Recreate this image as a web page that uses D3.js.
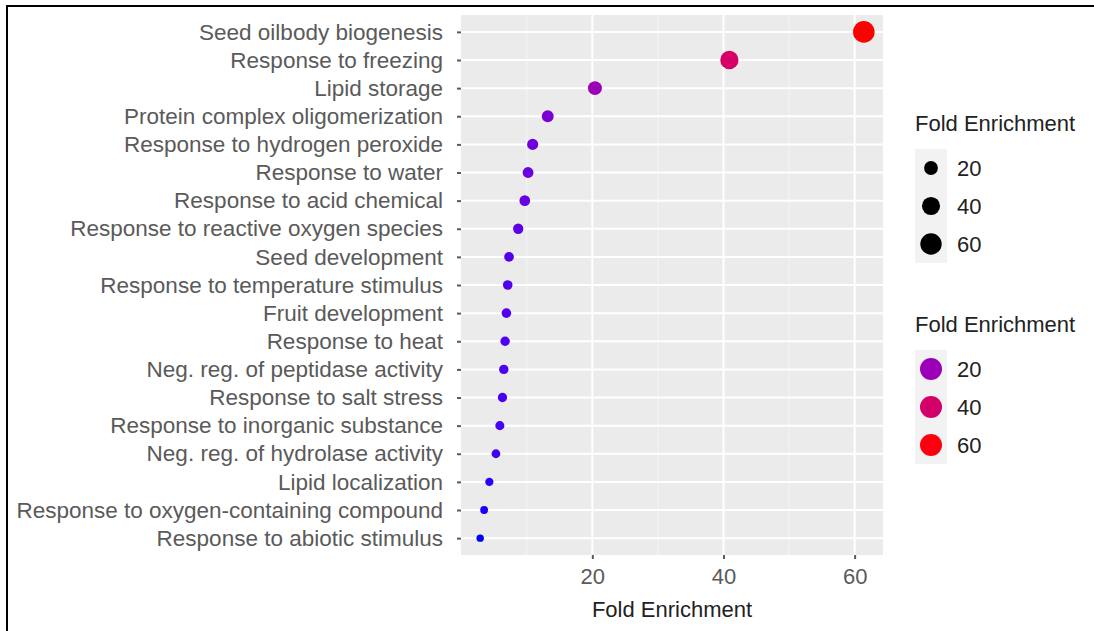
<!DOCTYPE html>
<html>
<head>
<meta charset="utf-8">
<script src="https://cdn.jsdelivr.net/npm/d3@7"></script>
<style>
  body { margin: 0; background: #fff; }
  text { font-family: "Liberation Sans", Arial, sans-serif; }
</style>
</head>
<body>
<svg id="chart"></svg>
<script>
var w = 1094;
var h = 631;

// GO terms, top to bottom
var terms = [
    "Seed oilbody biogenesis",
    "Response to freezing",
    "Lipid storage",
    "Protein complex oligomerization",
    "Response to hydrogen peroxide",
    "Response to water",
    "Response to acid chemical",
    "Response to reactive oxygen species",
    "Seed development",
    "Response to temperature stimulus",
    "Fruit development",
    "Response to heat",
    "Neg. reg. of peptidase activity",
    "Response to salt stress",
    "Response to inorganic substance",
    "Neg. reg. of hydrolase activity",
    "Lipid localization",
    "Response to oxygen-containing compound",
    "Response to abiotic stimulus"
];
var foldEnrichment = [61.4, 40.9, 20.4, 13.2, 10.9, 10.2, 9.7, 8.7, 7.3, 7.1,
    6.9, 6.7, 6.5, 6.3, 5.9, 5.3, 4.3, 3.5, 2.9];
var xTicks = [20, 40, 60];
var legendValues = [20, 40, 60];

var margin = { top: 15, right: 211, bottom: 76, left: 461 };
var pw = w - margin.left - margin.right;
var ph = h - margin.top - margin.bottom;

var svg = d3.select("#chart")
    .attr("width", w)
    .attr("height", h);

// frame lines (top and left only)
svg.append("line").attr("x1", 7).attr("x2", w).attr("y1", 6).attr("y2", 6)
    .style("stroke", "#000").style("stroke-width", 2);
svg.append("line").attr("x1", 7).attr("x2", 7).attr("y1", 5).attr("y2", h)
    .style("stroke", "#000").style("stroke-width", 2);

var lo = d3.min(foldEnrichment), hi = d3.max(foldEnrichment);
var pad = (hi - lo) * 0.05;
var x = d3.scaleLinear().domain([lo - pad, hi + pad]).range([0, pw]);
var y = d3.scalePoint().domain(terms).range([0, ph]).padding(0.6);
var r = d3.scaleSqrt().domain([lo, hi]).range([3.7, 10.8]);
var color = d3.scaleSequential(d3.interpolateLab("#0000ff", "#ff0000")).domain([lo, hi]);

var g = svg.append("g").attr("transform", "translate(" + margin.left + "," + margin.top + ")");

g.append("rect").attr("width", pw).attr("height", ph).style("fill", "#ebebeb");

// minor grid
g.selectAll("line.minor")
    .data([10, 30, 50])
    .enter()
    .append("line")
    .attr("x1", function (d) { return x(d); })
    .attr("x2", function (d) { return x(d); })
    .attr("y1", 0).attr("y2", ph)
    .style("stroke", "#f6f6f6").style("stroke-width", 1);

// major grid
g.selectAll("line.vmajor")
    .data(xTicks)
    .enter()
    .append("line")
    .attr("x1", function (d) { return x(d); })
    .attr("x2", function (d) { return x(d); })
    .attr("y1", 0).attr("y2", ph)
    .style("stroke", "#fff").style("stroke-width", 2);

g.selectAll("line.hmajor")
    .data(terms)
    .enter()
    .append("line")
    .attr("x1", 0).attr("x2", pw)
    .attr("y1", function (d) { return y(d); })
    .attr("y2", function (d) { return y(d); })
    .style("stroke", "#fff").style("stroke-width", 2);

// axes
var xAxis = g.append("g")
    .attr("transform", "translate(0," + ph + ")")
    .call(d3.axisBottom(x).tickValues(xTicks).tickSize(4).tickPadding(9));
var yAxis = g.append("g")
    .call(d3.axisLeft(y).tickSize(4).tickPadding(14));

[xAxis, yAxis].forEach(function (a) {
    a.select(".domain").remove();
    a.selectAll(".tick line").style("stroke", "#5a5a5a").style("stroke-width", 2);
    a.selectAll(".tick text")
        .style("font-size", "22px")
        .style("fill", "#5a5a5a")
        .style("font-family", "Liberation Sans, Arial, sans-serif");
});
yAxis.selectAll(".tick text").style("font-size", "22.5px");

// points
g.selectAll("circle")
    .data(terms)
    .enter()
    .append("circle")
    .attr("cx", function (d, i) { return x(foldEnrichment[i]); })
    .attr("cy", function (d) { return y(d); })
    .attr("r", function (d, i) { return r(foldEnrichment[i]); })
    .style("fill", function (d, i) { return color(foldEnrichment[i]); });

// axis title
svg.append("text")
    .attr("x", margin.left + pw / 2)
    .attr("y", 617)
    .attr("text-anchor", "middle")
    .style("font-size", "22px")
    .style("fill", "#222")
    .text("Fold Enrichment");

// legends
function drawLegend(top, useColor) {
    var lg = svg.append("g").attr("transform", "translate(915," + top + ")");
    lg.append("text")
        .attr("x", 0).attr("y", 0)
        .style("font-size", "22px")
        .style("fill", "#222")
        .text("Fold Enrichment");
    lg.append("rect")
        .attr("x", 0).attr("y", 18)
        .attr("width", 32).attr("height", 114)
        .style("fill", "#f2f2f2");
    lg.selectAll("circle")
        .data(legendValues)
        .enter()
        .append("circle")
        .attr("cx", 16)
        .attr("cy", function (d, i) { return 37 + i * 38; })
        .attr("r", function (d) { return useColor ? 11 : r(d); })
        .style("fill", function (d) { return useColor ? color(d) : "#000"; });
    lg.selectAll("text.lab")
        .data(legendValues)
        .enter()
        .append("text")
        .attr("class", "lab")
        .attr("x", 42)
        .attr("y", function (d, i) { return 37 + i * 38; })
        .attr("dy", "0.35em")
        .style("font-size", "22px")
        .style("fill", "#222")
        .text(function (d) { return d; });
}
drawLegend(131, false);
drawLegend(332, true);
</script>
</body>
</html>
